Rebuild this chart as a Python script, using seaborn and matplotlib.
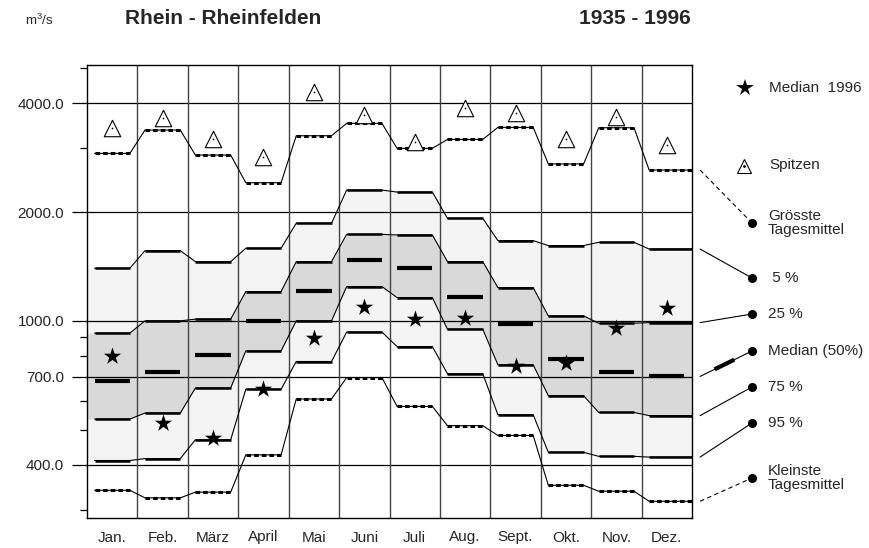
import numpy as np
import pandas as pd
import matplotlib
matplotlib.use("Agg")
import matplotlib.pyplot as plt
from matplotlib.lines import Line2D
import seaborn as sns

# --- data (m3/s) ---
months = ['Jan.', 'Feb.', 'März', 'April', 'Mai', 'Juni', 'Juli', 'Aug.', 'Sept.', 'Okt.', 'Nov.', 'Dez.']
q_max = [2905, 3370, 2874, 2410, 3250, 3517, 3000, 3175, 3428, 2716, 3420, 2613]
spitzen = [3420, 3645, 3183, 2843, 4300, 3707, 3116, 3884, 3748, 3183, 3667, 3063]
p05 = [1398, 1564, 1458, 1588, 1862, 2300, 2271, 1921, 1667, 1615, 1649, 1580]
p25 = [925, 1000, 1011, 1205, 1458, 1735, 1728, 1458, 1236, 1032, 985, 989]
p50 = [680, 724, 805, 1000, 1210, 1474, 1398, 1163, 981, 784, 720, 702]
p75 = [535, 556, 652, 826, 1000, 1244, 1160, 948, 756, 621, 558, 547]
p95 = [411, 416, 469, 647, 772, 931, 849, 714, 550, 433, 422, 420]
q_min = [340, 324, 336, 426, 608, 697, 580, 513, 482, 351, 338, 317]
median_1996 = [797, 522, 474, 650, 896, 1091, 1011, 1017, 751, 767, 955, 1084]

major_ticks = [400, 700, 1000, 2000, 4000]
minor_ticks = [300, 500, 600, 800, 900, 3000, 5000]

LIGHT = '#f4f4f4'
DARK = '#d9d9d9'

sns.set_style("white")
plt.rcParams['font.family'] = ['Liberation Sans', 'DejaVu Sans']
plt.rcParams['mathtext.fontset'] = 'custom'
plt.rcParams['mathtext.rm'] = 'Liberation Sans'

W, H = 869, 548
fig = plt.figure(figsize=(W / 100, H / 100), dpi=100)
ax = fig.add_axes([87 / W, 1 - 518 / H, (692 - 87) / W, (518 - 65) / H])
ax.set_yscale('log')
ax.set_xlim(0, 12)
ax.set_ylim(285, 5100)

n = len(months)
idx = np.arange(n)


def step_x(start, end):
    # flat part in every month, sloped joins in between
    xs = []
    for i in idx:
        xs += [i + 0.15, i + 0.85]
    xs[0] = start
    xs[-1] = end
    return np.array(xs)


def step_y(vals):
    return np.repeat(np.asarray(vals, dtype=float), 2)


fill_x = step_x(0.0, 12.0)
line_x = step_x(0.15, 12.0)

ax.fill_between(fill_x, step_y(p05), step_y(p25), color=LIGHT, lw=0, zorder=1)
ax.fill_between(fill_x, step_y(p25), step_y(p75), color=DARK, lw=0, zorder=1)
ax.fill_between(fill_x, step_y(p75), step_y(p95), color=LIGHT, lw=0, zorder=1)

# grid
for v in major_ticks:
    ax.axhline(v, color='black', lw=0.9, zorder=2)
for i in range(1, n):
    ax.axvline(i, color='#444444', lw=1.0, zorder=2)


def flat_segments(vals, **kw):
    for i in idx:
        x0 = i + 0.15
        x1 = 12.0 if i == n - 1 else i + 0.85
        ax.plot([x0, x1], [vals[i], vals[i]], solid_capstyle='butt', **kw)


# percentile lines
for vals in (p05, p25, p75, p95):
    df = pd.DataFrame({'x': line_x, 'y': step_y(vals)})
    sns.lineplot(data=df, x='x', y='y', ax=ax, color='black', lw=0.8, zorder=3)
    flat_segments(vals, color='black', lw=1.8, zorder=3)

# largest / smallest daily means
for vals in (q_max, q_min):
    df = pd.DataFrame({'x': line_x, 'y': step_y(vals)})
    sns.lineplot(data=df, x='x', y='y', ax=ax, color='black', lw=0.8, zorder=3)
    flat_segments(vals, color='black', lw=2.2, dashes=(1.5, 1.0), zorder=3)

# median bars
for i in idx:
    ax.plot([i + 0.15, i + 0.85], [p50[i], p50[i]], color='black', lw=3.0,
            solid_capstyle='butt', zorder=4)

pts = pd.DataFrame({'x': idx + 0.5, 'spitzen': spitzen, 'med96': median_1996})
sns.scatterplot(data=pts, x='x', y='med96', ax=ax, marker='*', s=170,
                color='black', edgecolor='black', linewidth=0, zorder=5)
sns.scatterplot(data=pts, x='x', y='spitzen', ax=ax, marker='^', s=140,
                facecolor='white', edgecolor='black', linewidth=0.8, zorder=5)
sns.scatterplot(data=pts, x='x', y='spitzen', ax=ax, marker='o', s=1.5,
                color='black', linewidth=0, zorder=6)

# axes
ax.set_xlabel('')
ax.set_ylabel('')
ax.set_xticks(idx + 0.5)
ax.set_xticklabels(months, fontsize=11)
ax.tick_params(axis='x', length=0, pad=9)
ax.set_yticks(major_ticks)
ax.set_yticklabels([f'{v:.1f}' for v in major_ticks], fontsize=11)
ax.set_yticks(minor_ticks, minor=True)
ax.set_yticklabels([], minor=True)
ax.tick_params(axis='y', which='major', direction='out', length=10.5, width=0.9,
               pad=6, left=True, color='black')
ax.tick_params(axis='y', which='minor', direction='out', length=5, width=0.9,
               left=True, color='black')
for sp in ax.spines.values():
    sp.set_color('black')
    sp.set_linewidth(1.0)
    sp.set_zorder(6)

# titles
fig.text(25 / W, 1 - 20 / H, r'm$^3$/s', fontsize=9.5, va='center', ha='left')
fig.text(125 / W, 1 - 19 / H, 'Rhein - Rheinfelden', fontsize=15, fontweight='bold',
         va='center', ha='left')
fig.text(691 / W, 1 - 19 / H, '1935 - 1996', fontsize=15, fontweight='bold',
         va='center', ha='right')

# legend on the right
def fpix(x, y):
    return x / W, 1 - y / H


TX = 769
fig.add_artist(Line2D([745 / W], [1 - 88 / H], marker='*', ms=13, color='black',
                      mec='black', mew=0, ls='none', transform=fig.transFigure))
fig.text(*fpix(TX, 88), 'Median  1996', fontsize=11, va='center')
fig.add_artist(Line2D([744 / W], [1 - 166 / H], marker='^', ms=10, mfc='white',
                      mec='black', mew=0.8, ls='none', transform=fig.transFigure))
fig.add_artist(Line2D([744 / W], [1 - 166 / H], marker='o', ms=1, color='black',
                      ls='none', transform=fig.transFigure))
fig.text(*fpix(TX, 165), 'Spitzen', fontsize=11, va='center')

legend_items = [
    (q_max, 223, 'Grösste\nTagesmittel', '--'),
    (p05, 278, ' 5 %', '-'),
    (p25, 314, '25 %', '-'),
    (p50, 351, 'Median (50%)', '-'),
    (p75, 387, '75 %', '-'),
    (p95, 423, '95 %', '-'),
    (q_min, 478, 'Kleinste\nTagesmittel', '--'),
]
inv = fig.transFigure.inverted()
for vals, dy, label, ls in legend_items:
    start = inv.transform(ax.transData.transform((12.16, vals[-1])))
    end = np.array(fpix(752, dy))
    line = Line2D([start[0], end[0]], [start[1], end[1]], color='black', lw=0.8,
                  ls=ls, transform=fig.transFigure)
    if ls == '--':
        line.set_dashes((4, 3))
    fig.add_artist(line)
    if label.startswith('Median'):
        a = start + 0.28 * (end - start)
        b = start + 0.66 * (end - start)
        fig.add_artist(Line2D([a[0], b[0]], [a[1], b[1]], color='black', lw=3.0,
                              solid_capstyle='butt', transform=fig.transFigure))
    fig.add_artist(Line2D([end[0]], [end[1]], marker='o', ms=5.5, color='black',
                          ls='none', transform=fig.transFigure))
    fig.text(*fpix(TX - 1, dy), label, fontsize=11, va='center', linespacing=0.95)

fig.savefig('out.png', dpi=100)
